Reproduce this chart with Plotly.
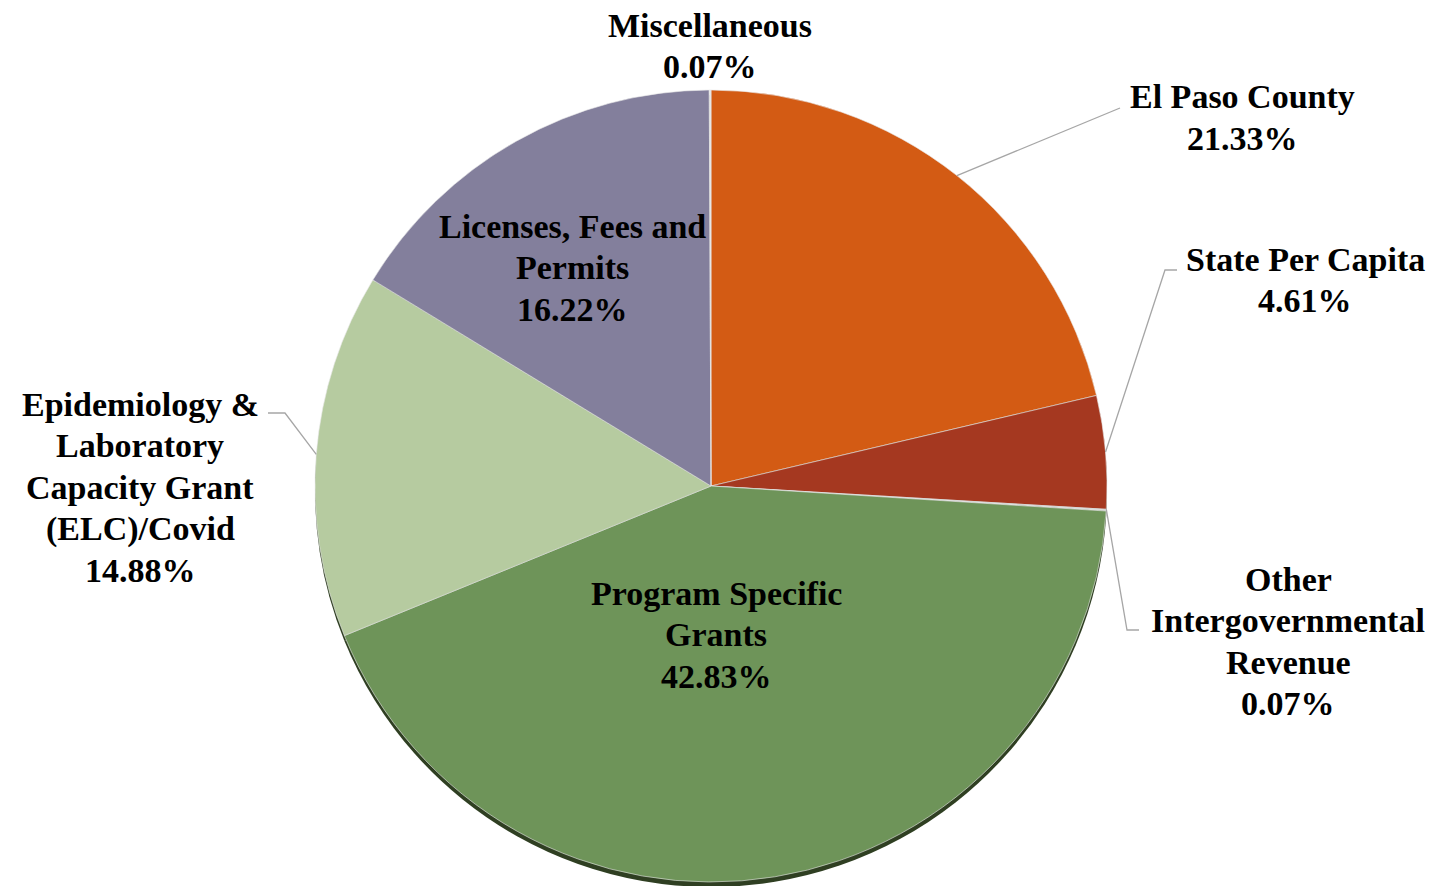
import math
import plotly.graph_objects as go

# ---- data ----
categories = ["El Paso County", "State Per Capita", "Other Intergovernmental Revenue",
              "Program Specific Grants", "Epidemiology & Laboratory Capacity Grant (ELC)/Covid",
              "Licenses, Fees and Permits", "Miscellaneous"]
values = [21.33, 4.61, 0.07, 42.83, 14.88, 16.22, 0.07]
label_lines = [["El Paso County", "21.33%"],
               ["State Per Capita", "4.61%"],
               ["Other", "Intergovernmental", "Revenue", "0.07%"],
               ["Program Specific", "Grants", "42.83%"],
               ["Epidemiology &", "Laboratory", "Capacity Grant", "(ELC)/Covid", "14.88%"],
               ["Licenses, Fees and", "Permits", "16.22%"],
               ["Miscellaneous", "0.07%"]]
colors = ["#D35B14", "#A53820", "#D9D9D9", "#6E9459", "#B6CBA0", "#837F9C", "#E6E6E6"]

# ---- layout helpers ----
W, H = 1451, 886
OFF = 8  # page body margin of the html output
CX, CY, R = 711 - OFF, 486 - OFF, 396
LINE = 41.6


def px(x, y):
    return (x - OFF) / W, 1 - (y - OFF) / H


def dom(cx, cy, r):
    return dict(x=[(cx - r) / W, (cx + r) / W], y=[1 - (cy + r) / H, 1 - (cy - r) / H])


fig = go.Figure()
# shadow
fig.add_trace(go.Pie(values=values, labels=categories, sort=False, direction="clockwise",
                     rotation=0, marker=dict(colors=["#2F3F22"] * len(values), line=dict(width=0)),
                     textinfo="none", hoverinfo="skip", showlegend=False,
                     domain=dom(CX, CY + 5, R)))
fig.add_trace(go.Pie(values=values, labels=categories, sort=False, direction="clockwise",
                     rotation=0, marker=dict(colors=colors, line=dict(color="#E8E8E8", width=0.6)),
                     textinfo="none", showlegend=False,
                     domain=dom(CX, CY, R)))

# label positions (pixel, center of first text line)
label_pos = [(1242, 97), (1305, 259), (1288, 579), (716, 593), (140, 404), (572, 226), (710, 25)]
# leader line knee/end points for outside labels
leader = {0: [(1120, 108)], 1: [(1165, 270), (1177, 270)], 2: [(1127, 630), (1139, 630)],
          4: [(285, 413), (268, 413)]}

font = dict(family="Liberation Serif, Times New Roman, serif", size=34, color="#000000")
for i, lines in enumerate(label_lines):
    x, y = label_pos[i]
    for k, t in enumerate(lines):
        ax, ay = px(x, y + k * LINE)
        fig.add_annotation(text="<b>" + t + "</b>", x=ax, y=ay, xref="paper", yref="paper",
                           xanchor="center", yanchor="middle", showarrow=False, font=font)

total = sum(values)
cum = 0
for i, v in enumerate(values):
    start = cum
    cum += v
    if i in leader:
        frac = start if i == 2 else start + v / 2
        ang = frac / total * 2 * math.pi
        ex, ey = 711 + R * math.sin(ang), 486 - R * math.cos(ang)
        pts = [(ex, ey)] + leader[i]
        path = "M " + " L ".join(f"{px(a, b)[0]},{px(a, b)[1]}" for a, b in pts)
        fig.add_shape(type="path", path=path, xref="paper", yref="paper",
                      line=dict(color="#A6A6A6", width=1.3))

fig.update_layout(width=W, height=H, margin=dict(l=0, r=0, t=0, b=0),
                  paper_bgcolor="white", plot_bgcolor="white", showlegend=False)
fig.write_html("out.html")
